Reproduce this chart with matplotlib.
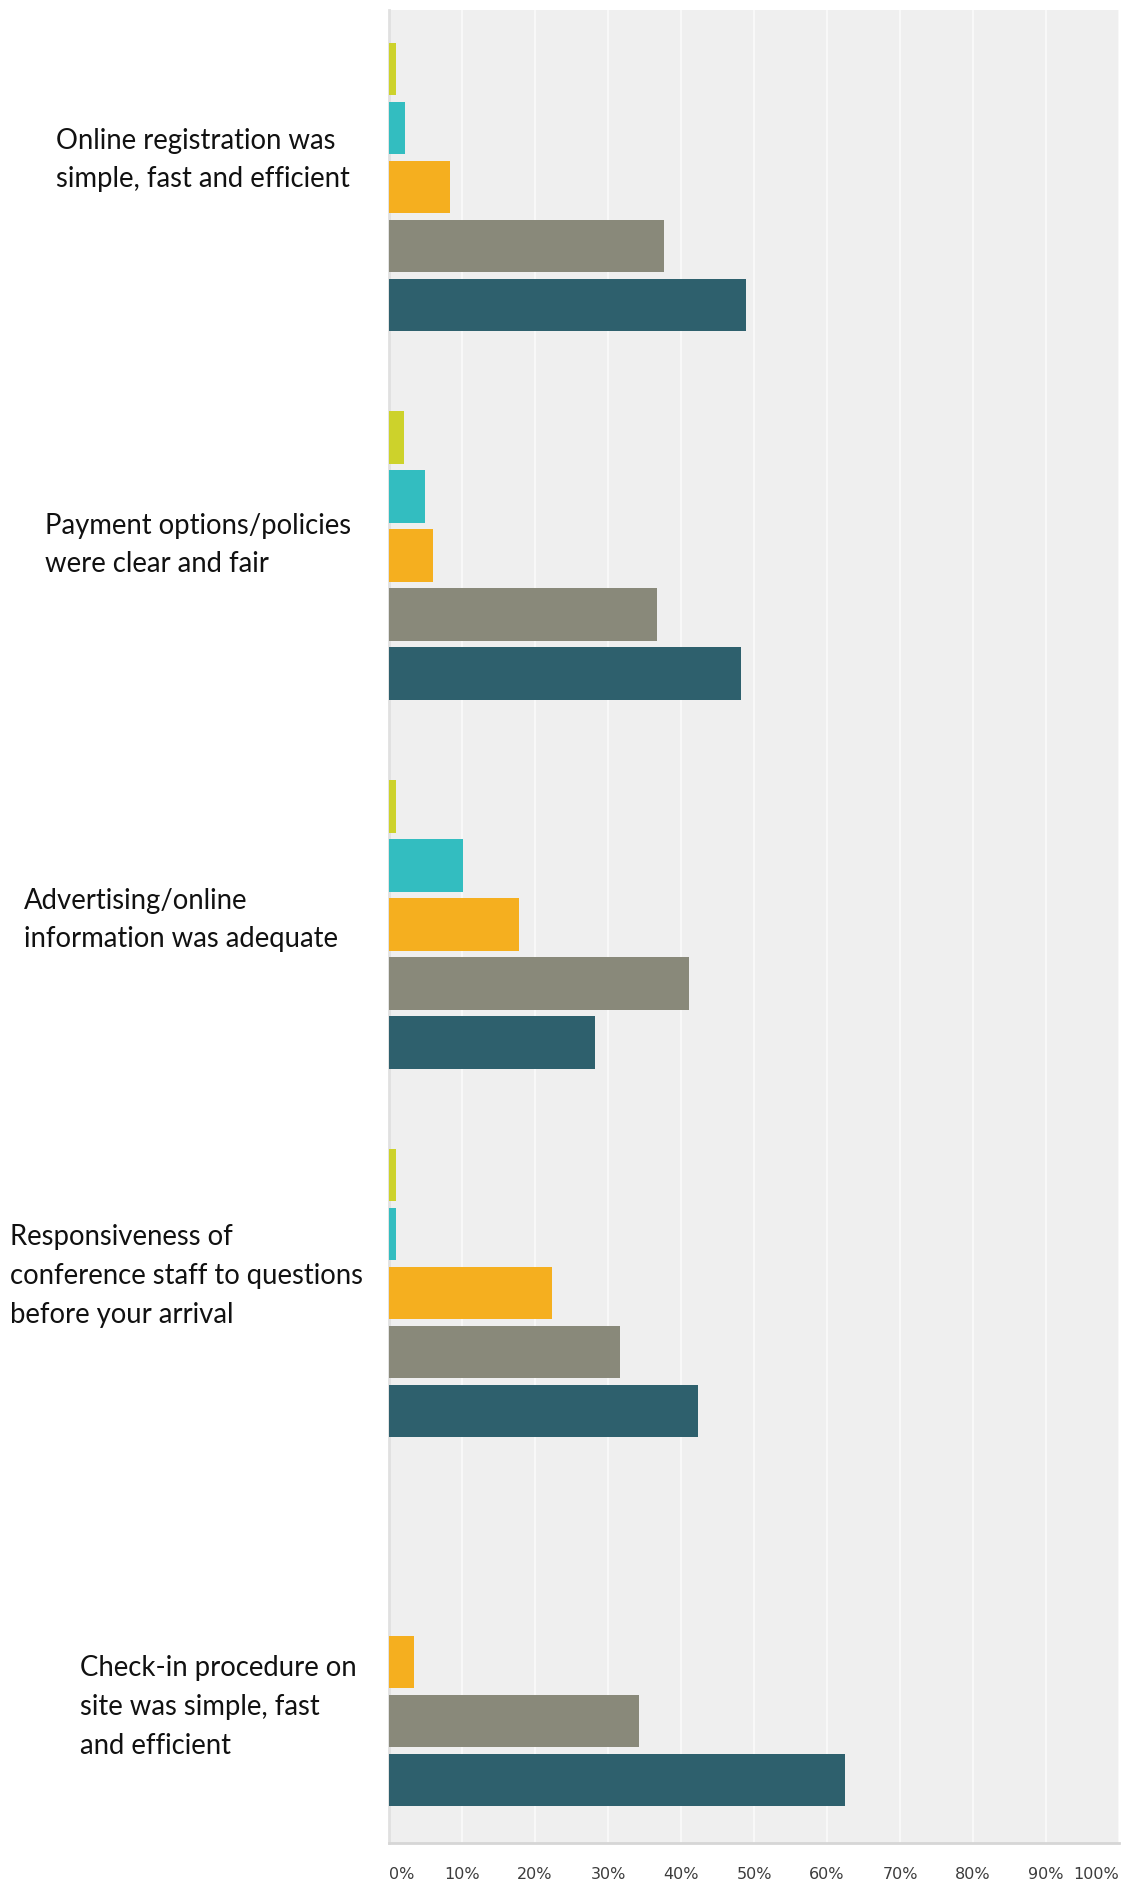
import numpy as np
import matplotlib.pyplot as plt

plt.rcParams['font.family'] = ['Lato', 'DejaVu Sans']

# questions (top to bottom)
questions = ["Online registration was\nsimple, fast and efficient",
             "Payment options/policies\nwere clear and fair",
             "Advertising/online\ninformation was adequate",
             "Responsiveness of\nconference staff to questions\nbefore your arrival",
             "Check-in procedure on\nsite was simple, fast\nand efficient"]

# percent per answer level, one list per colour (top bar of each group first)
strongly_disagree = [1.0, 2.0, 0.9, 1.0, 0.0]
disagree          = [2.2, 4.9, 10.1, 1.0, 0.0]
neutral           = [8.4, 6.0, 17.8, 22.3, 3.4]
agree             = [37.7, 36.7, 41.1, 31.6, 34.2]
strongly_agree    = [48.9, 48.2, 28.2, 42.3, 62.4]

series = [strongly_disagree, disagree, neutral, agree, strongly_agree]
colors = ["#cdd22b", "#33bdc0", "#f5af1f", "#89897a", "#2e606d"]

ticks = np.arange(0, 101, 10)
tick_labels = [f"{t}%" for t in ticks]

fig = plt.figure(figsize=(11.23, 18.80), dpi=100)
ax = fig.add_axes([389/1123, 37/1880, 730/1123, 1833/1880])
ax.set_facecolor("#efefef")

group_gap = 6.25
for j, (vals, c) in enumerate(zip(series, colors)):
    y = np.arange(len(questions))*group_gap + j
    v = np.array(vals)
    m = v > 0
    ax.barh(y[m], v[m], height=0.89, color=c, edgecolor="none", zorder=3)

ax.set_xlim(0, 100)
ax.set_ylim(30.07, -1.0)
ax.set_yticks([])
ax.set_xticks(ticks)
ax.set_xticklabels(tick_labels, fontsize=11.5, color="#3c3c3c", family="DejaVu Sans")
lbls = ax.get_xticklabels()
lbls[0].set_ha("left")
lbls[-1].set_ha("right")
ax.tick_params(axis="x", length=0, pad=17)
ax.grid(axis="x", color="#f8f8f8", linewidth=1.5, zorder=1)
for s in ["top", "right"]:
    ax.spines[s].set_visible(False)
ax.spines["left"].set_color("#e0e0e0")
ax.spines["left"].set_linewidth(2)
ax.spines["bottom"].set_color("#d6d6d6")
ax.spines["bottom"].set_linewidth(2)

# question labels placed to the left of the chart
label_pos = [(56, 160), (45, 545), (24, 920), (10, 1276), (80, 1707)]
for q, (x, y) in zip(questions, label_pos):
    fig.text(x/1123, 1 - y/1880, q, fontsize=19.8, ha="left", va="center",
             linespacing=1.6, color="#111111")

fig.savefig("out.png", dpi=100, facecolor="white")
